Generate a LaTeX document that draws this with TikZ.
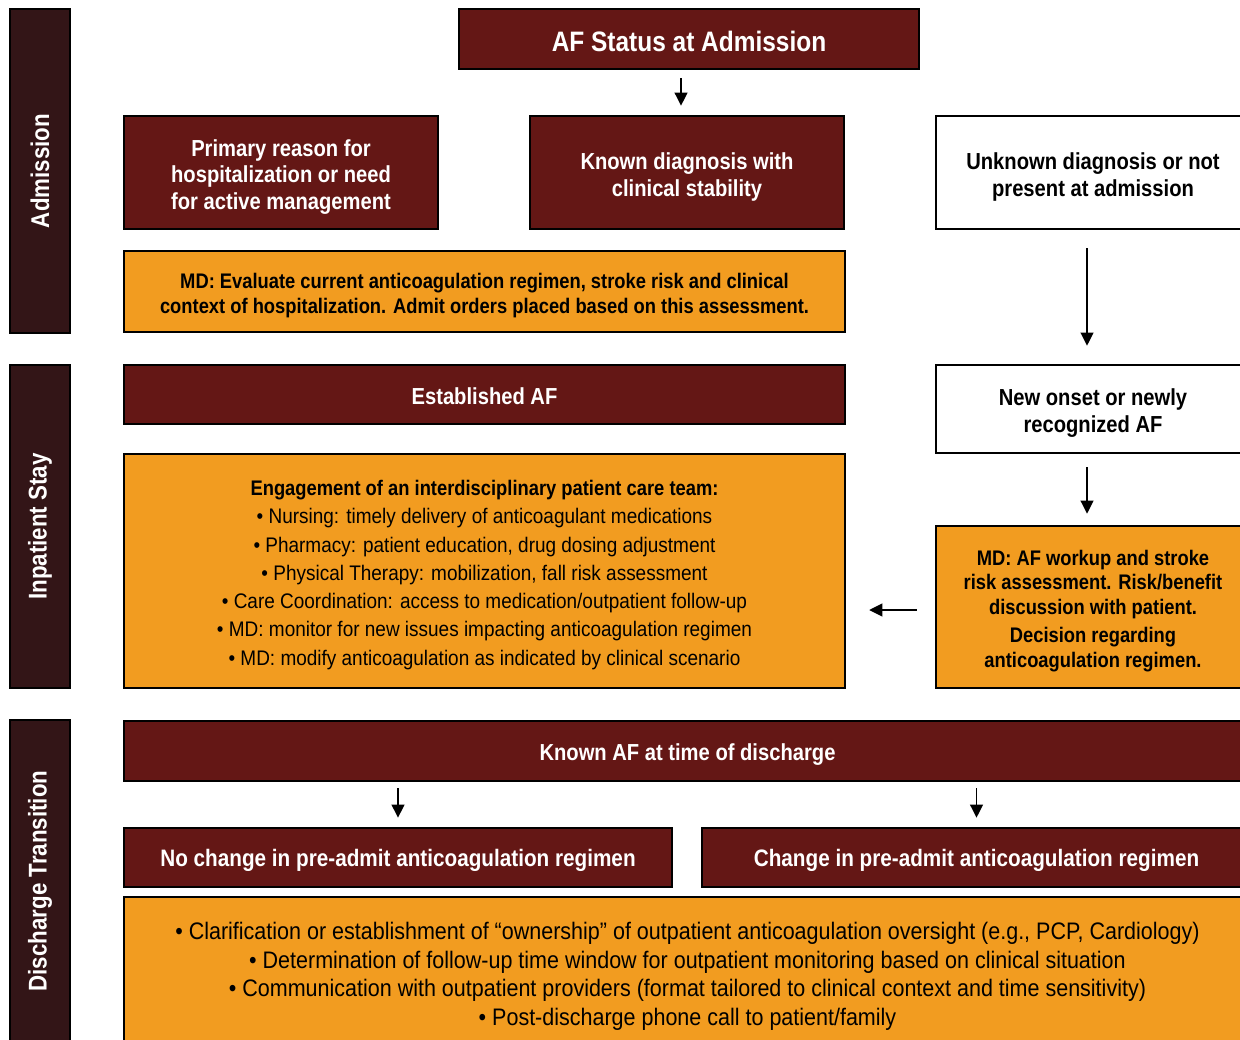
\documentclass[tikz,border=0pt]{standalone}
\usepackage{fontspec}
\setmainfont{Liberation Sans}[FakeStretch=0.87]
\newfontfamily\listfont{Liberation Sans}[FakeStretch=0.9]
\usetikzlibrary{arrows.meta}
\definecolor{maroon}{HTML}{641715}
\definecolor{amber}{HTML}{F29C20}
\definecolor{sidedark}{HTML}{331517}
\newcommand{\lift}{\rule{0pt}{1.1em}}
\tikzset{
  box/.style={draw=black, line width=1.4pt, inner sep=0pt, align=center,
    font=\bfseries\fontsize{13.2}{15.2}\selectfont},
  darkbox/.style={box, fill=maroon, text=white},
  whitebox/.style={box, fill=white, text=black},
  orangebox/.style={box, fill=amber, text=black,
    font=\bfseries\fontsize{12}{13.9}\selectfont},
  listbox/.style={box, fill=amber, text=black, font=\listfont\fontsize{12}{16.1}\selectfont},
  sidebar/.style={draw=black, line width=1.4pt, fill=sidedark, text=white, rotate=90,
    minimum height=1.2cm, inner sep=0pt, font=\bfseries\fontsize{14.6}{16}\selectfont},
  arr/.style={-{Triangle[length=7.5pt,width=7.2pt]}, line width=1.1pt},
}
\begin{document}
\begin{tikzpicture}[x=0.02cm, y=-0.02cm]
\useasboundingbox (0,0) rectangle (1240,1040);
% phase bars
\node[sidebar, minimum width=6.48cm] (admbar) at (40,171) {Admission};
\node[sidebar, minimum width=6.46cm] (inpbar) at (40,526.5) {Inpatient Stay};
\node[sidebar, minimum width=6.44cm] (disbar) at (40,881) {Discharge Transition};
% admission
\node[darkbox, minimum width=9.2cm, minimum height=1.2cm,
  font=\bfseries\fontsize{16}{18}\selectfont] (status) at (689,39) {\rule{0pt}{0.9em}AF Status at Admission};
\node[darkbox, minimum width=6.28cm, minimum height=2.26cm] (primary) at (281,172.5)
  {\lift Primary reason for\\hospitalization or need\\for active management};
\node[darkbox, minimum width=6.28cm, minimum height=2.26cm] (known) at (687,172.5)
  {\lift Known diagnosis with\\clinical stability};
\node[whitebox, minimum width=6.28cm, minimum height=2.26cm] (unknown) at (1093,172.5)
  {\lift Unknown diagnosis or not\\present at admission};
\node[orangebox, minimum width=14.42cm, minimum height=1.62cm] (evaluate) at (484.5,291.5)
  {\lift MD: Evaluate current anticoagulation regimen, stroke risk and clinical\\
   context of hospitalization. Admit orders placed based on this assessment.};
% inpatient stay
\node[darkbox, minimum width=14.42cm, minimum height=1.18cm] (established) at (484.5,394.5)
  {\rule{0pt}{0.9em}Established AF};
\node[whitebox, minimum width=6.28cm, minimum height=1.76cm] (newonset) at (1093,409)
  {\lift New onset or newly\\recognized AF};
\node[listbox, minimum width=14.42cm, minimum height=4.68cm] (team) at (484.5,571)
  {\lift{\rmfamily\bfseries Engagement of an interdisciplinary patient care team:}\\
   • Nursing: timely delivery of anticoagulant medications\\
   • Pharmacy: patient education, drug dosing adjustment\\
   • Physical Therapy: mobilization, fall risk assessment\\
   • Care Coordination: access to medication/outpatient follow-up\\
   • MD: monitor for new issues impacting anticoagulation regimen\\
   • MD: modify anticoagulation as indicated by clinical scenario};
\node[orangebox, minimum width=6.28cm, minimum height=3.24cm] (workup) at (1093,607)
  {\lift MD: AF workup and stroke\\risk assessment. Risk/benefit\\discussion with patient.\\[2.5pt]
   Decision regarding\\anticoagulation regimen.};
% discharge transition
\node[darkbox, minimum width=22.54cm, minimum height=1.2cm] (atdischarge) at (687.5,751)
  {\rule{0pt}{1em}Known AF at time of discharge};
\node[darkbox, minimum width=10.96cm, minimum height=1.18cm,
  font=\bfseries\fontsize{13.55}{15.2}\selectfont] (nochange) at (398,857.5)
  {\rule{0pt}{1em}No change in pre-admit anticoagulation regimen};
\node[darkbox, minimum width=10.98cm, minimum height=1.18cm,
  font=\bfseries\fontsize{13.55}{15.2}\selectfont] (change) at (976.5,857.5)
  {\rule{0pt}{1em}Change in pre-admit anticoagulation regimen};
\node[listbox, minimum width=22.54cm, minimum height=3cm,
  font=\listfont\fontsize{13.6}{16.2}\selectfont] (handoff) at (687.5,972)
  {\lift • Clarification or establishment of “ownership” of outpatient anticoagulation oversight (e.g., PCP, Cardiology)\\
   • Determination of follow-up time window for outpatient monitoring based on clinical situation\\
   • Communication with outpatient providers (format tailored to clinical context and time sensitivity)\\
   • Post-discharge phone call to patient/family};
% arrows
\draw[arr, shorten <=0.16cm, shorten >=0.18cm] ([xshift=-0.16cm]status.south) -- ([xshift=-0.12cm]known.north);
\draw[arr, shorten <=0.36cm, shorten >=0.36cm] ([xshift=-0.12cm]unknown.south) -- ([xshift=-0.12cm]newonset.north);
\draw[arr, shorten <=0.26cm, shorten >=0.22cm] ([xshift=-0.12cm]newonset.south) -- ([xshift=-0.12cm]workup.north);
\draw[arr, shorten <=0.36cm, shorten >=0.46cm] ([yshift=-0.06cm]workup.west) -- ([yshift=-0.06cm]workup.west -| team.east);
\draw[arr, shorten <=0.12cm, shorten >=0.18cm] (atdischarge.south -| nochange.north) -- (nochange.north);
\draw[arr, shorten <=0.12cm, shorten >=0.18cm] (atdischarge.south -| change.north) -- (change.north);
\end{tikzpicture}
\end{document}
